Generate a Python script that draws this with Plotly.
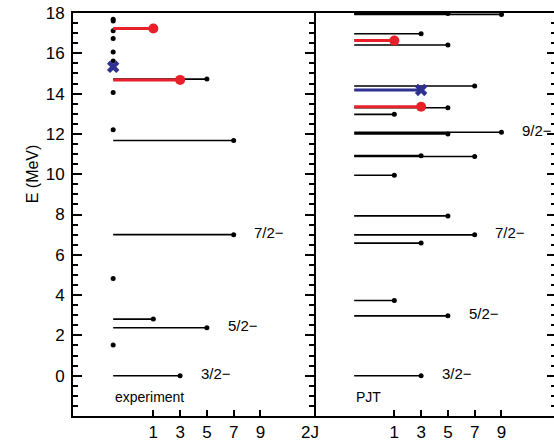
import plotly.graph_objects as go

# ---------------- data ----------------
X0 = -2  # start of level lines (2J axis)

# experiment: levels with assigned 2J
exp_E = [0.00, 2.38, 2.81, 7.00, 11.67, 14.72]
exp_2J = [3, 5, 1, 7, 7, 5]
# experiment: levels without spin assignment (dots)
exp_dot_E = [1.52, 4.83, 12.20, 14.05, 15.62, 16.06, 16.74, 17.12, 17.60, 17.69]
# experiment: highlighted levels
exp_red_E = [14.68, 17.23]
exp_red_2J = [3, 1]
exp_blue_E = [15.33]

# PJT calculation
pjt_E = [0.00, 2.97, 3.73, 6.58, 6.99, 7.93, 9.95, 10.88, 10.92, 12.00, 12.08,
         12.97, 13.30, 14.38, 16.41, 16.97, 17.93, 17.98]
pjt_2J = [3, 5, 1, 3, 7, 5, 1, 7, 3, 5, 9, 1, 5, 7, 5, 3, 9, 5]
pjt_red_E = [13.35, 16.63]
pjt_red_2J = [3, 1]
pjt_blue_E = [14.18]
pjt_blue_2J = [3]

# labelled levels
exp_label_E = [0.00, 2.38, 7.00]
exp_label_2J = [3, 5, 7]
exp_label_txt = ["3/2\u2212", "5/2\u2212", "7/2\u2212"]
pjt_label_E = [0.00, 2.97, 6.99, 12.08]
pjt_label_2J = [3, 5, 7, 9]
pjt_label_txt = ["3/2\u2212", "5/2\u2212", "7/2\u2212", "9/2\u2212"]

xtick_vals = [1, 3, 5, 7, 9]
ytick_vals = [0, 2, 4, 6, 8, 10, 12, 14, 16, 18]

RED = "#e8202a"
BLUE = "#2e3192"
FONT = "Liberation Sans, Arial, sans-serif"


def seg(E, J):
    xs, ys = [], []
    for e, j in zip(E, J):
        xs += [X0, j, None]
        ys += [e, e, None]
    return xs, ys


fig = go.Figure()


def add_levels(E, J, xa, ya, color, width, msize, symbol="circle"):
    xs, ys = seg(E, J)
    fig.add_trace(go.Scatter(x=xs, y=ys, mode="lines", xaxis=xa, yaxis=ya,
                             line=dict(color=color, width=width), showlegend=False,
                             hoverinfo="skip"))
    fig.add_trace(go.Scatter(x=J, y=E, mode="markers", xaxis=xa, yaxis=ya,
                             marker=dict(color=color, size=msize, symbol=symbol),
                             showlegend=False))


# experiment panel
add_levels(exp_E, exp_2J, "x", "y", "black", 1.6, 5)
fig.add_trace(go.Scatter(x=[X0] * len(exp_dot_E), y=exp_dot_E, mode="markers",
                         marker=dict(color="black", size=5), showlegend=False))
add_levels(exp_red_E, exp_red_2J, "x", "y", RED, 3, 10)
fig.add_trace(go.Scatter(x=[X0] * len(exp_blue_E), y=exp_blue_E, mode="markers",
                         marker=dict(color=BLUE, size=11, symbol="x",
                                     line=dict(width=0)), showlegend=False))

# PJT panel
add_levels(pjt_E, pjt_2J, "x2", "y2", "black", 1.6, 5)
add_levels(pjt_red_E, pjt_red_2J, "x2", "y2", RED, 3, 10)
add_levels(pjt_blue_E, pjt_blue_2J, "x2", "y2", BLUE, 3, 11, "x")

annotations = []
for e, j, t in zip(exp_label_E, exp_label_2J, exp_label_txt):
    annotations.append(dict(x=j + 1.4, y=e, xref="x", yref="y", text=t, showarrow=False,
                            xanchor="left", yanchor="middle", yshift=2,
                            font=dict(size=15, color="black", family=FONT)))
for e, j, t in zip(pjt_label_E, pjt_label_2J, pjt_label_txt):
    annotations.append(dict(x=j + 1.4, y=e, xref="x2", yref="y2", text=t, showarrow=False,
                            xanchor="left", yanchor="middle", yshift=2,
                            font=dict(size=15, color="black", family=FONT)))
annotations.append(dict(x=X0, y=-1.05, xref="x", yref="y", text="experiment",
                        showarrow=False, xanchor="left", yanchor="middle",
                        font=dict(size=14, color="black", family=FONT)))
annotations.append(dict(x=X0, y=-1.05, xref="x2", yref="y2", text="PJT",
                        showarrow=False, xanchor="left", yanchor="middle",
                        font=dict(size=14, color="black", family=FONT)))
annotations.append(dict(x=12.7, y=0, xref="x", yref="paper", text="2J",
                        showarrow=False, xanchor="center", yanchor="top", yshift=-5,
                        font=dict(size=17, color="black", family=FONT)))
annotations.append(dict(x=-0.085, y=0.6, xref="paper", yref="paper", text="E (MeV)",
                        textangle=-90, showarrow=False, xanchor="center", yanchor="middle",
                        font=dict(size=16, color="black", family=FONT)))

xcommon = dict(tickvals=xtick_vals, ticks="inside", ticklen=6, tickwidth=2,
               tickcolor="black", showline=True, linewidth=2, linecolor="black",
               mirror=True, showgrid=False, zeroline=False,
               tickfont=dict(size=17, color="black", family=FONT))

# plot area on page: x 73..(554, continues off-page), y 13..416
W, H = 554, 445
L, T, B_EDGE = 73, 13, 416
split = (314 - 73) / (W - 73)
px_per_unit = (314 - 73) / 18.0
right_max = -5 + (W - 314) / px_per_unit

fig.update_layout(
    width=W, height=H,
    margin=dict(l=L, r=0, t=T, b=H - B_EDGE),
    paper_bgcolor="white", plot_bgcolor="white",
    font=dict(family=FONT, color="black"),
    xaxis=dict(domain=[0, split], range=[-5, 13], anchor="y", **xcommon),
    xaxis2=dict(domain=[split, 1], range=[-5, right_max], anchor="y2", **xcommon),
    yaxis=dict(range=[-2, 18], tickvals=ytick_vals, ticks="inside", ticklen=9, tickwidth=2,
               tickcolor="black", showline=True, linewidth=2, linecolor="black",
               mirror="ticks", showgrid=False, zeroline=False, anchor="x",
               ticklabelstandoff=3, ticklabeloverflow="allow",
               tickfont=dict(size=17, color="black", family=FONT),
               minor=dict(dtick=0.5, ticks="inside", ticklen=5, tickwidth=2,
                          tickcolor="black", showgrid=False)),
    yaxis2=dict(range=[-2, 18], tickvals=ytick_vals, matches="y", anchor="x2", side="right",
                ticks="inside", ticklen=7, tickwidth=2, tickcolor="black",
                showline=False, showticklabels=False, showgrid=False, zeroline=False,
                minor=dict(dtick=0.5, ticks="inside", ticklen=3, tickwidth=2,
                           tickcolor="black", showgrid=False)),
    annotations=annotations,
    showlegend=False,
)

fig.write_html("out.html",
               config={"displayModeBar": False, "staticPlot": True},
               post_script="document.body.style.margin='0';document.body.style.overflow='hidden';")
